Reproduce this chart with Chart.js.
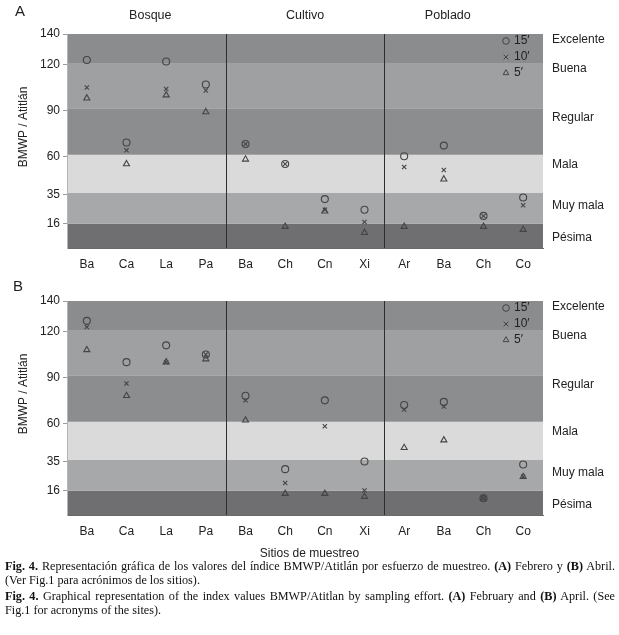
<!DOCTYPE html>
<html>
<head>
<meta charset="utf-8">
<script src="https://cdn.jsdelivr.net/npm/chart.js@4/dist/chart.umd.min.js"></script>
<style>
  body { margin: 0; background: #fff; width: 619px; height: 635px; position: relative; overflow: hidden; }
  canvas { position: absolute; left: 0; }
  #chartA { top: 0; }
  #chartB { top: 267px; }
  .xtitle { position: absolute; top: 546px; left: 0; width: 619px; text-align: center;
    font: 12px "Liberation Sans", Arial, sans-serif; color: #222; }
  .cap { position: absolute; left: 5px; width: 610px; font: 12.2px/13.5px "Liberation Serif", "Times New Roman", serif; color: #111; }
  .cap div.j { text-align: justify; text-align-last: justify; }
</style>
</head>
<body>
<canvas id="chartA" width="619" height="275"></canvas>
<canvas id="chartB" width="619" height="275"></canvas>
<div class="xtitle">Sitios de muestreo</div>
<div class="cap" style="top:560px">
  <div class="j"><b>Fig. 4.</b> Representación gráfica de los valores del índice BMWP/Atitlán por esfuerzo de muestreo. <b>(A)</b> Febrero y <b>(B)</b> Abril.</div>
  <div>(Ver Fig.1 para acrónimos de los sitios).</div>
</div>
<div class="cap" style="top:590px">
  <div class="j"><b>Fig. 4.</b> Graphical representation of the index values BMWP/Atitlan by sampling effort. <b>(A)</b> February and <b>(B)</b> April. (See</div>
  <div>Fig.1 for acronyms of the sites).</div>
</div>
<script>
const sitios = ['Ba', 'Ca', 'La', 'Pa', 'Ba', 'Ch', 'Cn', 'Xi', 'Ar', 'Ba', 'Ch', 'Co'];
const grupos = ['Bosque', 'Cultivo', 'Poblado'];
const yTicks = [16, 35, 60, 90, 120, 140];

// classes of the index (band edges and names, bottom to top)
const claseLimites = [0, 16, 36, 61, 91, 121, 140];
const claseNombres = ['Pésima', 'Muy mala', 'Mala', 'Regular', 'Buena', 'Excelente'];

// A - Febrero
const feb15 = [123, 69, 122, 107, 68, 55, 32, 25, 60, 67, 21, 33];
const feb10 = [105, 64, 104, 103, 68, 55, 25, 17, 53, 51, 21, 28];
const feb5  = [98, 55, 100, 89, 58, 14, 24, 10, 14, 45, 14, 12];

// B - Abril
const abr15 = [127, 100, 111, 105, 78, 30, 75, 35, 72, 74, 11, 33];
const abr10 = [123, 86, 100, 105, 75, 21, 58, 16, 69, 71, 11, 25];
const abr5  = [108, 78, 100, 102, 62, 14, 14, 12, 44, 49, 11, 25];

const esfuerzos = ['15′', '10′', '5′'];
const estilos = ['circle', 'crossRot', 'triangle'];

const bandColors = ['#6f6f71', '#a7a8aa', '#dadadb', '#8c8d8f', '#9fa0a2', '#8b8c8e'];
const labelAt = [6.5, 27.5, 54.5, 85, 117.5, 136.5];
const grupoAt = [1.6, 5.5, 9.1];
const markColor = '#444';
const sans = '"Liberation Sans", Arial, sans-serif';

const bands = {
  id: 'bands',
  beforeDraw(chart) {
    const { ctx, chartArea: a, scales: { y } } = chart;
    ctx.save();
    for (let i = 0; i < bandColors.length; i++) {
      const top = y.getPixelForValue(claseLimites[i + 1]);
      const bot = y.getPixelForValue(claseLimites[i]);
      ctx.fillStyle = bandColors[i];
      ctx.fillRect(a.left, top, a.right - a.left, bot - top);
    }
    ctx.restore();
  },
  afterDraw(chart, args, opts) {
    const { ctx, chartArea: a, scales: { x, y } } = chart;
    ctx.save();
    // separators between groups
    ctx.strokeStyle = '#2e2e2e';
    ctx.lineWidth = 1;
    [3.5, 7.5].forEach(v => {
      const px = Math.round(x.getPixelForValue(v)) + 0.5;
      ctx.beginPath();
      ctx.moveTo(px, a.top);
      ctx.lineTo(px, a.bottom);
      ctx.stroke();
    });
    ctx.fillStyle = '#222';
    ctx.textBaseline = 'middle';
    // group names (top panel only)
    if (opts.grupos) {
      ctx.font = '12.5px ' + sans;
      ctx.textAlign = 'center';
      grupos.forEach((g, i) => ctx.fillText(g, x.getPixelForValue(grupoAt[i]), 16));
    }
    // class names on the right
    ctx.textAlign = 'left';
    ctx.font = '12px ' + sans;
    claseNombres.forEach((n, i) => ctx.fillText(n, a.right + 9, y.getPixelForValue(labelAt[i])));
    // panel letter
    ctx.font = '15px ' + sans;
    ctx.fillText(opts.letra, opts.letraX, opts.letraY);
    // y title
    ctx.save();
    ctx.translate(24, 127);
    ctx.rotate(-Math.PI / 2);
    ctx.textAlign = 'center';
    ctx.font = '12px ' + sans;
    ctx.fillText('BMWP / Atitlán', 0, 0);
    ctx.restore();
    // legend
    ctx.font = '12px ' + sans;
    ctx.strokeStyle = markColor;
    esfuerzos.forEach((e, i) => {
      const ly = a.top + 7 + i * 16;
      ctx.fillStyle = 'rgba(0,0,0,0)';
      Chart.helpers.drawPoint(ctx, { pointStyle: estilos[i], radius: 3.3, borderWidth: 1, rotation: 0 }, 506, ly);
      ctx.fillStyle = '#222';
      ctx.fillText(e, 514, ly);
    });
    ctx.restore();
  }
};

function makeChart(id, series, opts) {
  return new Chart(document.getElementById(id), {
    type: 'line',
    data: {
      labels: sitios,
      datasets: series.map((d, i) => ({
        label: esfuerzos[i],
        data: d,
        showLine: false,
        pointStyle: estilos[i],
        pointRadius: i === 1 ? 3 : 3.5,
        pointBorderWidth: 1.1,
        pointBorderColor: markColor,
        pointBackgroundColor: 'rgba(0,0,0,0)'
      }))
    },
    options: {
      responsive: false,
      animation: false,
      layout: { padding: { top: 34, right: 76, left: 0, bottom: 0 } },
      plugins: {
        legend: { display: false },
        tooltip: { enabled: false },
        bands: opts
      },
      scales: {
        x: {
          type: 'category',
          offset: true,
          grid: { display: true, drawOnChartArea: false, drawTicks: false },
          border: { display: true, color: '#6a6a6a' },
          ticks: { color: '#222', font: { size: 12, family: sans }, padding: 9, autoSkip: false, maxRotation: 0 },
          afterFit: s => { s.height = 27; }
        },
        y: {
          min: 0,
          max: 140,
          afterBuildTicks: s => { s.ticks = yTicks.map(v => ({ value: v })); },
          grid: { display: true, drawOnChartArea: false, drawTicks: true, tickLength: 4, color: '#9a9a9a' },
          border: { display: true, color: '#b5b5b5' },
          ticks: { color: '#222', font: { size: 12, family: sans }, padding: 3 },
          afterFit: s => { s.width = 67; }
        }
      }
    },
    plugins: [bands]
  });
}

makeChart('chartA', [feb15, feb10, feb5], { letra: 'A', letraX: 15, letraY: 12, grupos: true });
makeChart('chartB', [abr15, abr10, abr5], { letra: 'B', letraX: 13, letraY: 20, grupos: false });
</script>
</body>
</html>
